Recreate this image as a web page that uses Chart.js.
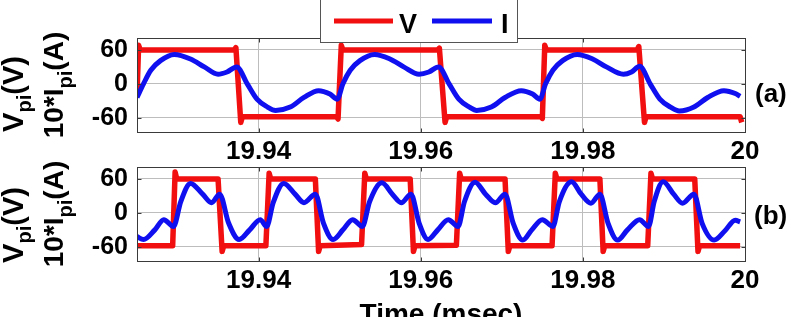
<!DOCTYPE html>
<html><head><meta charset="utf-8">
<script src="https://cdn.jsdelivr.net/npm/chart.js@4.4.0/dist/chart.umd.min.js"></script>
<style>
html,body{margin:0;padding:0;background:#fff;width:791px;height:317px;overflow:hidden}
#c1{position:absolute;left:0;top:0}
#c2{position:absolute;left:0;top:160px}
</style></head>
<body>
<canvas id="c1" width="791" height="160"></canvas>
<canvas id="c2" width="791" height="157"></canvas>
<script>
// ---- tick labels ----
const xTickValues = [19.94, 19.96, 19.98, 20];
const xTickLabels = ['19.94', '19.96', '19.98', '20'];
const yTickValues = [-60, 0, 60];
const yTickLabels = ['-60', '0', '60'];
const seriesNames = ['V', 'I'];

// ---- (a) top panel ----
const topVoltTime = [19.925, 19.9252, 19.9254, 19.9370, 19.9372, 19.9378, 19.9380, 19.9496, 19.9498, 19.9502, 19.9504, 19.9621, 19.9623, 19.9630, 19.9632, 19.9748, 19.9750, 19.9753, 19.9755, 19.9867, 19.9869, 19.9876, 19.9878, 19.9994, 19.9996];
const topVolt     = [-20, 68, 60, 60, 64, -68, -58, -58, -62, 68, 60, 60, 63, -68, -58, -58, -61, 68, 60, 60, 66, -68, -58, -58, -68];
const topCurrTime = [19.9250, 19.9258, 19.9267, 19.9279, 19.9296, 19.9316, 19.9333, 19.9350, 19.9361, 19.9373, 19.9386, 19.9398, 19.9411, 19.9421, 19.9439, 19.9456, 19.9474, 19.9488, 19.9497,
                     19.9504, 19.9513, 19.9525, 19.9543, 19.9562, 19.9579, 19.9598, 19.9610, 19.9622, 19.9635, 19.9647, 19.9660, 19.9669, 19.9687, 19.9704, 19.9724, 19.9738, 19.9747,
                     19.9754, 19.9763, 19.9775, 19.9793, 19.9812, 19.9829, 19.9850, 19.9860, 19.9870, 19.9883, 19.9895, 19.9908, 19.9919, 19.9937, 19.9954, 19.9974, 19.9988, 19.9994];
const topCurr     = [-24, 0, 24, 41, 52, 44, 30, 17, 21, 30, 0, -27, -41, -47, -41, -24, -12, -18, -27,
                     0, 24, 41, 52, 44, 30, 17, 21, 30, 0, -27, -41, -47, -41, -24, -12, -18, -27,
                     0, 24, 41, 52, 44, 30, 17, 21, 31, 0, -27, -41, -48, -41, -24, -12, -17, -22];

// ---- (b) bottom panel ----
const botVoltTime = [19.925, 19.9294, 19.9297, 19.9299, 19.9350, 19.9355, 19.9357, 19.9409, 19.9413, 19.9415, 19.9470, 19.9474, 19.9476, 19.9527, 19.9531, 19.9533, 19.9587, 19.9591, 19.9593, 19.9644, 19.9648, 19.9650, 19.9704, 19.9708, 19.9710, 19.9762, 19.9766, 19.9768, 19.9821, 19.9825, 19.9827, 19.9880, 19.9884, 19.9886, 19.9938, 19.9942, 19.9944, 19.9994];
const botVolt     = [-58, -58, 72, 60, 60, -68, -58, -58, 70, 60, 60, -68, -58, -56, 70, 60, 60, -68, -58, -57, 70, 60, 60, -68, -58, -58, 70, 60, 60, -68, -58, -58, 70, 60, 60, -68, -58, -58];
const botCurrTime = [19.9250, 19.9258, 19.9272, 19.9283, 19.9295, 19.9304, 19.9316, 19.9331, 19.9342, 19.9352, 19.9363, 19.9376, 19.9389, 19.9402,
                     19.9410, 19.9418, 19.9431, 19.9445, 19.9456, 19.9470, 19.9480, 19.9492, 19.9504, 19.9516,
                     19.9528, 19.9537, 19.9552, 19.9565, 19.9576, 19.9588, 19.9598, 19.9609, 19.9621, 19.9634,
                     19.9646, 19.9654, 19.9667, 19.9680, 19.9692, 19.9704, 19.9714, 19.9726, 19.9737, 19.9750,
                     19.9763, 19.9771, 19.9786, 19.9798, 19.9810, 19.9821, 19.9831, 19.9843, 19.9855, 19.9870,
                     19.9881, 19.9888, 19.9899, 19.9912, 19.9923, 19.9937, 19.9947, 19.9962, 19.9975, 19.9988, 19.9994];
const botCurr     = [-42, -47, -30, -12, -24, 20, 52, 33, 18, 33, -18, -47, -30, -12,
                     -24, 18, 52, 33, 18, 33, -18, -47, -30, -12,
                     -24, 20, 53, 33, 18, 33, -18, -47, -30, -12,
                     -24, 20, 54, 33, 18, 33, -18, -48, -30, -12,
                     -24, 20, 55, 33, 17, 33, -18, -48, -30, -12,
                     -24, 20, 55, 33, 17, 33, -18, -48, -32, -13, -16];

const RED = '#f20f0f', BLUE = '#0f0ff0';
const FF = '"Liberation Sans", Arial, Helvetica, sans-serif';

function drawRotated(ctx, parts, cx, cy) {
  ctx.save();
  ctx.translate(cx, cy);
  ctx.rotate(-Math.PI / 2);
  let total = 0;
  parts.forEach(p => { ctx.font = 'bold ' + p.size + 'px ' + FF; p.w = ctx.measureText(p.text).width; total += p.w; });
  let x = -total / 2;
  ctx.fillStyle = '#000'; ctx.textAlign = 'left'; ctx.textBaseline = 'alphabetic';
  parts.forEach(p => { ctx.font = 'bold ' + p.size + 'px ' + FF; ctx.fillText(p.text, x, p.dy); x += p.w; });
  ctx.restore();
}

function drawFrame(chart) {
  const ctx = chart.ctx, a = chart.chartArea, sx = chart.scales.x, sy = chart.scales.y;
  ctx.save();
  ctx.strokeStyle = '#3a3a3a'; ctx.lineWidth = 1;
  const L = Math.round(a.left) + 0.5, T = Math.round(a.top) + 0.5, R = Math.round(a.right) + 0.5, B = Math.round(a.bottom) + 0.5;
  ctx.strokeRect(L, T, R - L, B - T);
  ctx.beginPath();
  sy.ticks.forEach(t => { const y = Math.round(sy.getPixelForValue(t.value)) + 0.5; ctx.moveTo(L, y); ctx.lineTo(L + 4, y); ctx.moveTo(R, y); ctx.lineTo(R - 4, y); });
  sx.ticks.forEach(t => { const x = Math.round(sx.getPixelForValue(t.value)) + 0.5; ctx.moveTo(x, T); ctx.lineTo(x, T + 4); ctx.moveTo(x, B); ctx.lineTo(x, B - 4); });
  ctx.stroke();
  ctx.restore();
}

const line1 = [{text: 'V', size: 29, dy: 0}, {text: 'pi', size: 20, dy: 8}, {text: '(V)', size: 29, dy: 0}];
const line2 = [{text: '10*I', size: 28, dy: 0}, {text: 'pi', size: 20, dy: 9}, {text: '(A)', size: 28, dy: 0}];

const topOverlay = {
  id: 'topOverlay',
  afterDraw(chart) {
    const ctx = chart.ctx;
    drawFrame(chart);
    drawRotated(ctx, line1, 23, 94);
    drawRotated(ctx, line2, 63, 85);
    // legend
    ctx.save();
    ctx.fillStyle = '#fff'; ctx.fillRect(320, -2, 197, 45);
    ctx.strokeStyle = '#555'; ctx.lineWidth = 1; ctx.strokeRect(320.5, -1.5, 197, 44);
    ctx.lineWidth = 5;
    ctx.strokeStyle = RED; ctx.beginPath(); ctx.moveTo(334, 21); ctx.lineTo(393, 21); ctx.stroke();
    ctx.strokeStyle = BLUE; ctx.beginPath(); ctx.moveTo(432, 21); ctx.lineTo(492, 21); ctx.stroke();
    ctx.fillStyle = '#000'; ctx.font = 'bold 27px ' + FF; ctx.textBaseline = 'alphabetic'; ctx.textAlign = 'left';
    ctx.fillText(seriesNames[0], 399, 33);
    ctx.fillText(seriesNames[1], 501, 33);
    ctx.font = 'bold 26px ' + FF;
    ctx.fillText('(a)', 755, 102);
    ctx.restore();
  }
};

const botOverlay = {
  id: 'botOverlay',
  afterDraw(chart) {
    const ctx = chart.ctx;
    drawFrame(chart);
    drawRotated(ctx, line1, 23, 65);
    drawRotated(ctx, line2, 63, 54);
    ctx.save();
    ctx.fillStyle = '#000'; ctx.textBaseline = 'alphabetic';
    ctx.font = 'bold 26px ' + FF; ctx.textAlign = 'left';
    ctx.fillText('(b)', 754, 64);
    ctx.font = 'bold 28px ' + FF; ctx.textAlign = 'center';
    ctx.fillText('Time (msec)', 441, 163);
    ctx.restore();
  }
};

function makeChart(id, vt, v, it, iv, padTop, xHeight, overlay) {
  return new Chart(document.getElementById(id), {
    type: 'line',
    data: {
      datasets: [
        {label: seriesNames[0], data: vt.map((t, i) => ({x: t, y: v[i]})), borderColor: RED, borderWidth: 5.5,
         pointRadius: 0, tension: 0, order: 1, borderJoinStyle: 'round', fill: false},
        {label: seriesNames[1], data: it.map((t, i) => ({x: t, y: iv[i]})), borderColor: BLUE, borderWidth: 5,
         pointRadius: 0, cubicInterpolationMode: 'monotone', order: 0, borderJoinStyle: 'round', fill: false}
      ]
    },
    options: {
      responsive: false, animation: false, devicePixelRatio: 1,
      layout: {padding: {left: 0, right: 46, top: padTop, bottom: 0}},
      plugins: {legend: {display: false}, title: {display: false}, tooltip: {enabled: false}},
      scales: {
        x: {
          type: 'linear', min: 19.925, max: 20,
          afterBuildTicks: s => { s.ticks = xTickValues.map(val => ({value: val})); },
          afterFit: s => { s.height = xHeight; s.paddingLeft = 0; s.paddingRight = 0; },
          ticks: {callback: (val, idx) => xTickLabels[idx], color: '#000', padding: 4, maxRotation: 0, autoSkip: false,
                  font: {family: FF, size: 26, weight: 'bold'}},
          grid: {color: '#bdbdbd', lineWidth: 1, drawTicks: false},
          border: {display: false}
        },
        y: {
          type: 'linear', min: -85, max: 81,
          afterBuildTicks: s => { s.ticks = yTickValues.map(val => ({value: val})); },
          afterFit: s => { s.width = 137; s.paddingTop = 0; s.paddingBottom = 0; },
          ticks: {callback: (val, idx) => yTickLabels[idx], color: '#000', padding: 9, autoSkip: false,
                  font: {family: FF, size: 25, weight: 'bold'}},
          grid: {color: '#bdbdbd', lineWidth: 1, drawTicks: false},
          border: {display: false}
        }
      }
    },
    plugins: [overlay]
  });
}

makeChart('c1', topVoltTime, topVolt, topCurrTime, topCurr, 38, 28, topOverlay);
makeChart('c2', botVoltTime, botVolt, botCurrTime, botCurr, 7, 56, botOverlay);
</script>
</body></html>
